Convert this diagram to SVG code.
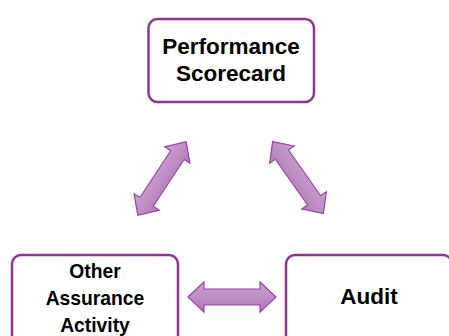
<svg xmlns="http://www.w3.org/2000/svg" width="449" height="336" viewBox="0 0 449 336">
  <defs>
    <linearGradient id="ag" x1="0" y1="0" x2="0" y2="1">
      <stop offset="0" stop-color="#cba2d0"/>
      <stop offset="1" stop-color="#b27bba"/>
    </linearGradient>
    <path id="dbl" d="M-44,0 L-28,-15 L-28,-8 L28,-8 L28,-15 L44,0 L28,15 L28,8 L-28,8 L-28,15 Z"/>
  </defs>
  <style>
    .box { fill: #ffffff; stroke: #8e3595; stroke-width: 2.5; }
    .arrow { fill: url(#ag); stroke: #9c43a4; stroke-width: 1.2; stroke-linejoin: miter; }
    .lbl { font-family: "Liberation Sans", Arial, sans-serif; font-weight: bold; fill: #000000; text-anchor: middle; }
  </style>
  <rect width="449" height="336" fill="#ffffff"/>
  <g id="connectors">
    <use href="#dbl" class="arrow" transform="translate(162,178.5) rotate(-56.7)"/>
    <use href="#dbl" class="arrow" transform="translate(298,177.5) rotate(54.8)"/>
    <use href="#dbl" class="arrow" transform="translate(232,297)"/>
  </g>
  <g id="performance-scorecard">
    <rect class="box" x="148.5" y="19" width="165.5" height="83" rx="9"/>
    <text class="lbl" x="231" y="54" font-size="22.5">Performance</text>
    <text class="lbl" x="231" y="81" font-size="22.5">Scorecard</text>
  </g>
  <g id="other-assurance-activity">
    <rect class="box" x="12" y="255" width="166" height="100" rx="9"/>
    <text class="lbl" x="95" y="278" font-size="19.3">Other</text>
    <text class="lbl" x="95" y="305" font-size="19.3">Assurance</text>
    <text class="lbl" x="95" y="332" font-size="19.3">Activity</text>
  </g>
  <g id="audit">
    <rect class="box" x="286" y="255" width="166" height="100" rx="9"/>
    <text class="lbl" x="369" y="304" font-size="22.5">Audit</text>
  </g>
</svg>
